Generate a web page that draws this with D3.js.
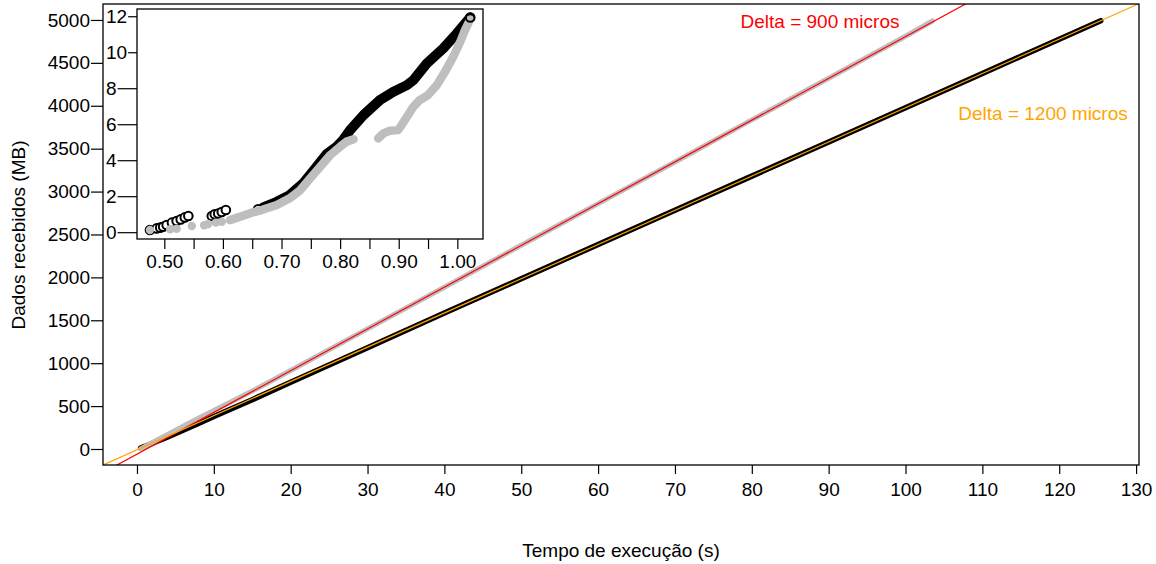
<!DOCTYPE html>
<html>
<head>
<meta charset="utf-8">
<script src="https://d3js.org/d3.v7.min.js"></script>
<style>
body { margin: 0; background: #fff; }
text { font-family: "Liberation Sans", Arial, sans-serif; font-size: 19px; fill: #000; }
</style>
</head>
<body>
<script>
// svg size and plot boxes
var w = 1156;
var h = 564;
var box = {left: 103, right: 1139, top: 4, bottom: 465};
var inBox = {left: 137, right: 483, top: 9, bottom: 239};

// main chart: delta = 900 micros (gray) and delta = 1200 micros (black)
var grayTime = [0.47, 1, 2, 3, 4, 6, 8, 10, 12, 15, 20, 30, 40, 50, 60, 70, 80, 90, 100, 103.5];
var grayMB = [2, 28, 75, 122, 170, 265, 360, 450, 540, 675, 915, 1400, 1885, 2375, 2860, 3345, 3835, 4320, 4810, 4988];
var blackTime = [0.47, 1, 2, 4, 6, 8, 10, 12, 15, 20, 30, 40, 50, 60, 70, 80, 90, 100, 110, 120, 125.4];
var blackMB = [12, 30, 68, 140, 220, 298, 378, 458, 575, 778, 1180, 1585, 1984, 2383, 2782, 3180, 3579, 3978, 4377, 4776, 4992];

// fitted lines [intercept, slope]
var fit900 = [-60, 48.66];
var fit1200 = [-10, 39.88];

// inset: first second of the transfer
var blackDotsTime = [0.4755, 0.487, 0.493, 0.498, 0.504, 0.513, 0.521, 0.528, 0.535, 0.541, 0.581, 0.586, 0.592, 0.598, 0.605, 0.660];
var blackDotsMB = [0.15, 0.24, 0.28, 0.33, 0.43, 0.56, 0.65, 0.74, 0.85, 0.93, 0.93, 1.02, 1.07, 1.15, 1.26, 1.30];
var blackRunTime = [0.669, 0.692, 0.714, 0.737, 0.760, 0.777, 0.794, 0.805, 0.817, 0.840, 0.868, 0.891, 0.914, 0.925, 0.948, 0.976, 0.999, 1.022];
var blackRunMB = [1.41, 1.72, 2.09, 2.74, 3.67, 4.37, 4.78, 5.15, 5.70, 6.54, 7.37, 7.83, 8.20, 8.48, 9.41, 10.24, 11.07, 11.96];
var grayDotsTime = [0.4755, 0.510, 0.521, 0.547, 0.568, 0.575, 0.588, 0.598];
var grayDotsMB = [0.15, 0.19, 0.22, 0.37, 0.41, 0.48, 0.56, 0.61];
var grayRun1Time = [0.612, 0.638, 0.649, 0.666, 0.692, 0.714, 0.732, 0.749, 0.766, 0.783, 0.800, 0.811, 0.823];
var grayRun1MB = [0.70, 0.98, 1.11, 1.26, 1.54, 1.91, 2.37, 3.02, 3.67, 4.31, 4.78, 5.06, 5.19];
var grayRun2Time = [0.865, 0.874, 0.885, 0.899, 0.905, 0.914, 0.925, 0.936, 0.950, 0.965, 0.979, 0.993, 1.005, 1.013, 1.022];
var grayRun2MB = [5.24, 5.52, 5.67, 5.70, 5.98, 6.44, 7.00, 7.37, 7.65, 8.20, 8.94, 9.78, 10.61, 11.26, 11.85];

// ticks and labels
var xTicks = d3.range(0, 131, 10);
var yTicks = d3.range(0, 5001, 500);
var inXTicks = d3.range(0.50, 1.001, 0.05);
var inYTicks = d3.range(0, 13, 2);
var xTitle = "Tempo de execução (s)";
var yTitle = "Dados recebidos (MB)";
var label900 = "Delta = 900 micros";
var label1200 = "Delta = 1200 micros";

// zip two arrays into points
function zip(a, b) {
  return a.map(function(d, i) { return [d, b[i]]; });
}

var svg = d3.select("body").append("svg")
  .attr("width", w)
  .attr("height", h);

svg.append("rect").attr("width", w).attr("height", h).attr("fill", "#fff");

// main scales
var xScale = d3.scaleLinear().domain([-4.42, 130.38]).range([box.left, box.right]);
var yScale = d3.scaleLinear().domain([-186.5, 5186]).range([box.bottom, box.top]);

svg.append("clipPath").attr("id", "plotClip")
  .append("rect")
  .attr("x", box.left).attr("y", box.top)
  .attr("width", box.right - box.left).attr("height", box.bottom - box.top);

var line = d3.line()
  .x(function(d) { return xScale(d[0]); })
  .y(function(d) { return yScale(d[1]); });

var plot = svg.append("g").attr("clip-path", "url(#plotClip)");

// data series as thick bands of points
plot.append("path")
  .attr("d", line(zip(blackTime, blackMB)))
  .attr("fill", "none").attr("stroke", "#000").attr("stroke-width", 5.5)
  .attr("stroke-linecap", "round");

plot.append("path")
  .attr("d", line(zip(grayTime, grayMB)))
  .attr("fill", "none").attr("stroke", "#bebebe").attr("stroke-width", 5)
  .attr("stroke-linecap", "round");

// regression lines over whole x range
function fitLine(f) {
  var xd = xScale.domain();
  return line(xd.map(function(x) { return [x, f[0] + f[1] * x]; }));
}

plot.append("path").attr("d", fitLine(fit900))
  .attr("fill", "none").attr("stroke", "#ff0000").attr("stroke-width", 1.2);
plot.append("path").attr("d", fitLine(fit1200))
  .attr("fill", "none").attr("stroke", "#ffa500").attr("stroke-width", 1.2);

// box
svg.append("rect")
  .attr("x", box.left).attr("y", box.top)
  .attr("width", box.right - box.left).attr("height", box.bottom - box.top)
  .attr("fill", "none").attr("stroke", "#000").attr("stroke-width", 1.3);

// main axes
var yAxis = svg.append("g")
  .attr("transform", "translate(" + box.left + ",0)")
  .call(d3.axisLeft(yScale).tickValues(yTicks).tickSize(12).tickPadding(1)
    .tickFormat(d3.format("d")));
var xAxis = svg.append("g")
  .attr("transform", "translate(0," + box.bottom + ")")
  .call(d3.axisBottom(xScale).tickValues(xTicks).tickSize(9).tickPadding(9)
    .tickFormat(d3.format("d")));

[yAxis, xAxis].forEach(function(g) {
  g.select(".domain").remove();
  g.attr("font-size", null).attr("font-family", null);
  g.selectAll("line").attr("stroke", "#000").attr("stroke-width", 1.2);
  g.selectAll("text").attr("fill", "#000");
});

// axis titles
svg.append("text")
  .attr("x", (box.left + box.right) / 2)
  .attr("y", 557)
  .attr("text-anchor", "middle")
  .text(xTitle);

svg.append("text")
  .attr("transform", "translate(25," + 235 + ") rotate(-90)")
  .attr("text-anchor", "middle")
  .text(yTitle);

// series labels
svg.append("text")
  .attr("x", 820).attr("y", 28)
  .attr("text-anchor", "middle")
  .style("fill", "#ff0000")
  .text(label900);

svg.append("text")
  .attr("x", 1043).attr("y", 120)
  .attr("text-anchor", "middle")
  .style("fill", "#ffa500")
  .text(label1200);

/*
inset chart
*/
var inX = d3.scaleLinear().domain([0.4534, 1.0438]).range([inBox.left, inBox.right]);
var inY = d3.scaleLinear().domain([-0.35, 12.43]).range([inBox.bottom, inBox.top]);

svg.append("rect")
  .attr("x", inBox.left).attr("y", inBox.top)
  .attr("width", inBox.right - inBox.left).attr("height", inBox.bottom - inBox.top)
  .attr("fill", "#fff");

var inLine = d3.line()
  .x(function(d) { return inX(d[0]); })
  .y(function(d) { return inY(d[1]); });

var inset = svg.append("g");

// black open circles, dense part drawn as a band
inset.append("path")
  .attr("d", inLine(zip(blackRunTime, blackRunMB)))
  .attr("fill", "none").attr("stroke", "#000").attr("stroke-width", 10)
  .attr("stroke-linecap", "round").attr("stroke-linejoin", "round");

inset.selectAll(".bdot")
  .data(zip(blackDotsTime, blackDotsMB))
  .enter().append("circle")
  .attr("class", "bdot")
  .attr("cx", function(d) { return inX(d[0]); })
  .attr("cy", function(d) { return inY(d[1]); })
  .attr("r", 4.3)
  .attr("fill", "#fff").attr("stroke", "#000").attr("stroke-width", 2);

// gray filled circles
[zip(grayRun1Time, grayRun1MB), zip(grayRun2Time, grayRun2MB)].forEach(function(run) {
  inset.append("path")
    .attr("d", inLine(run))
    .attr("fill", "none").attr("stroke", "#bebebe").attr("stroke-width", 8.5)
    .attr("stroke-linecap", "round").attr("stroke-linejoin", "round");
});

inset.selectAll(".gdot")
  .data(zip(grayDotsTime, grayDotsMB))
  .enter().append("circle")
  .attr("class", "gdot")
  .attr("cx", function(d) { return inX(d[0]); })
  .attr("cy", function(d) { return inY(d[1]); })
  .attr("r", 4.2)
  .attr("fill", "#bebebe");

// last black point stays visible as a ring
var lastB = blackRunTime.length - 1;
inset.append("circle")
  .attr("cx", inX(blackRunTime[lastB]))
  .attr("cy", inY(blackRunMB[lastB]))
  .attr("r", 4.3)
  .attr("fill", "none").attr("stroke", "#000").attr("stroke-width", 2);

svg.append("rect")
  .attr("x", inBox.left).attr("y", inBox.top)
  .attr("width", inBox.right - inBox.left).attr("height", inBox.bottom - inBox.top)
  .attr("fill", "none").attr("stroke", "#000").attr("stroke-width", 1.3);

// inset x axis, labels on every other tick
var inXAxis = svg.append("g")
  .attr("transform", "translate(0," + inBox.bottom + ")")
  .call(d3.axisBottom(inX).tickValues(inXTicks).tickSize(10).tickPadding(6)
    .tickFormat(function(d, i) { return i % 2 == 0 ? d3.format(".2f")(d) : ""; }));
inXAxis.select(".domain").remove();
inXAxis.attr("font-size", null).attr("font-family", null);
inXAxis.selectAll("line").attr("stroke", "#000").attr("stroke-width", 1.2);
inXAxis.selectAll("text").attr("fill", "#000");

// inset y axis: labels start at a fixed x, tick runs up to the box
var inYAxis = svg.append("g");
inYTicks.forEach(function(t) {
  var label = inYAxis.append("text")
    .attr("x", 106)
    .attr("y", inY(t))
    .attr("dy", "0.35em")
    .text(t);
  var endX = 106 + label.node().getComputedTextLength() + 1;
  inYAxis.append("line")
    .attr("x1", endX).attr("x2", inBox.left)
    .attr("y1", inY(t)).attr("y2", inY(t))
    .attr("stroke", "#000").attr("stroke-width", 1.2);
});
</script>
</body>
</html>
